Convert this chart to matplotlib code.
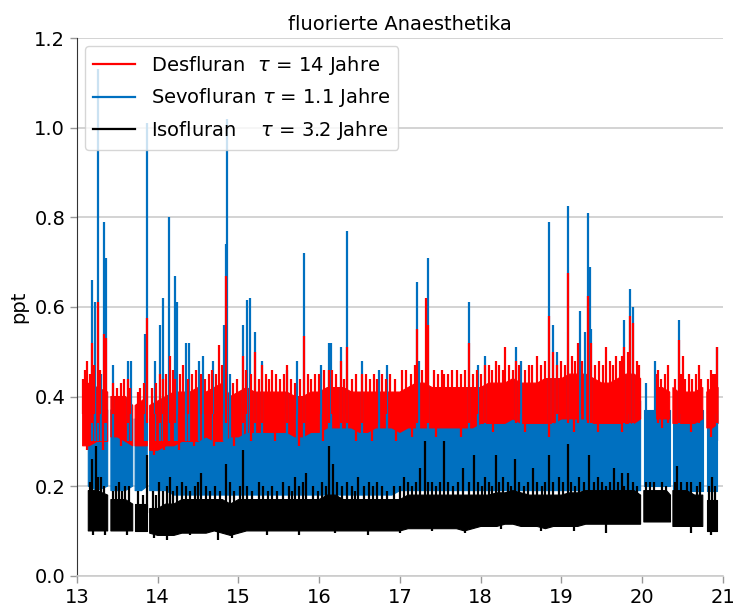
import matplotlib
matplotlib.use("Agg")
import matplotlib.pyplot as plt
from matplotlib.lines import Line2D
import numpy as np

nan = np.nan

# --- Desfluran: band of the dense trace (lower / upper edge) ---
red_t = [13.07, 13.15, 13.25, 13.38, 13.40, 13.42, 13.50, 13.60, 13.69, 13.71,
         13.72, 13.80, 13.87, 13.89, 13.90,
         14.0, 14.1, 14.2, 14.3, 14.4, 14.5, 14.6, 14.7, 14.8, 14.9,
         15.0, 15.1, 15.2, 15.3, 15.4, 15.5, 15.6, 15.7, 15.8, 15.9,
         16.0, 16.1, 16.2, 16.3, 16.4, 16.5, 16.6, 16.7, 16.8, 16.9,
         17.0, 17.1, 17.2, 17.3, 17.4, 17.5, 17.6, 17.7, 17.8, 17.9,
         18.0, 18.1, 18.2, 18.3, 18.4, 18.5, 18.6, 18.7, 18.8, 18.9,
         19.0, 19.1, 19.2, 19.3, 19.4, 19.5, 19.6, 19.7, 19.8, 19.9,
         19.98, 20.05, 20.16, 20.25, 20.34, 20.36, 20.38, 20.45, 20.55, 20.65,
         20.75, 20.78, 20.80, 20.87, 20.94]
red_lo = [0.29, 0.29, 0.30, 0.30, nan, 0.31, 0.31, 0.30, 0.29, nan,
          0.29, 0.29, 0.29, nan, 0.28,
          0.28, 0.29, 0.29, 0.30, 0.30, 0.30, 0.31, 0.30, 0.30, 0.31,
          0.31, 0.32, 0.32, 0.32, 0.32, 0.32, 0.32, 0.31, 0.31, 0.32,
          0.32, 0.33, 0.33, 0.33, 0.33, 0.32, 0.32, 0.33, 0.33, 0.33,
          0.32, 0.33, 0.33, 0.33, 0.33, 0.33, 0.33, 0.33, 0.33, 0.33,
          0.34, 0.34, 0.34, 0.34, 0.35, 0.34, 0.34, 0.34, 0.34, 0.34,
          0.35, 0.35, 0.35, 0.35, 0.34, 0.34, 0.34, 0.34, 0.34, 0.34,
          0.35, nan, 0.35, 0.35, 0.35, nan, 0.34, 0.34, 0.34, 0.34,
          0.35, nan, 0.33, 0.33, 0.34]
red_hi = [0.42, 0.43, 0.42, 0.41, nan, 0.40, 0.40, 0.40, 0.38, nan,
          0.38, 0.39, 0.40, nan, 0.38,
          0.39, 0.40, 0.41, 0.41, 0.41, 0.42, 0.41, 0.42, 0.43, 0.40,
          0.41, 0.42, 0.41, 0.41, 0.41, 0.41, 0.41, 0.40, 0.40, 0.41,
          0.41, 0.42, 0.42, 0.42, 0.41, 0.41, 0.41, 0.41, 0.41, 0.41,
          0.41, 0.42, 0.43, 0.43, 0.42, 0.42, 0.42, 0.42, 0.42, 0.42,
          0.42, 0.43, 0.43, 0.43, 0.44, 0.43, 0.43, 0.43, 0.44, 0.44,
          0.44, 0.45, 0.45, 0.45, 0.44, 0.43, 0.43, 0.44, 0.45, 0.45,
          0.44, nan, 0.42, 0.42, 0.41, nan, 0.42, 0.41, 0.41, 0.41,
          0.42, nan, 0.41, 0.42, 0.42]

# --- Sevofluran and Isofluran share one time grid ---
t_low = [13.14, 13.25, 13.38, 13.40, 13.42, 13.50, 13.60, 13.69, 13.71, 13.72,
         13.80, 13.87, 13.89, 13.90,
         14.0, 14.1, 14.2, 14.3, 14.4, 14.5, 14.6, 14.7, 14.8, 14.9,
         15.0, 15.1, 15.2, 15.3, 15.4, 15.5, 15.6, 15.7, 15.8, 15.9,
         16.0, 16.1, 16.2, 16.3, 16.4, 16.5, 16.6, 16.7, 16.8, 16.9,
         17.0, 17.1, 17.2, 17.3, 17.4, 17.5, 17.6, 17.7, 17.8, 17.9,
         18.0, 18.1, 18.2, 18.3, 18.4, 18.5, 18.6, 18.7, 18.8, 18.9,
         19.0, 19.1, 19.2, 19.3, 19.4, 19.5, 19.6, 19.7, 19.8, 19.9,
         19.98, 20.00, 20.02, 20.10, 20.20, 20.30, 20.35, 20.365, 20.38, 20.45,
         20.55, 20.65, 20.75, 20.775, 20.80, 20.87, 20.93]
blue_lo = [0.20, 0.19, 0.20, nan, 0.19, 0.19, 0.19, 0.20, nan, 0.19,
           0.19, 0.20, nan, 0.19,
           0.19, 0.19, 0.18, 0.18, 0.18, 0.18, 0.18, 0.18, 0.18, 0.18,
           0.18, 0.18, 0.18, 0.18, 0.18, 0.18, 0.18, 0.18, 0.18, 0.18,
           0.18, 0.18, 0.18, 0.18, 0.18, 0.18, 0.18, 0.18, 0.18, 0.18,
           0.19, 0.19, 0.19, 0.19, 0.19, 0.19, 0.19, 0.19, 0.19, 0.19,
           0.19, 0.19, 0.19, 0.19, 0.19, 0.19, 0.19, 0.19, 0.19, 0.19,
           0.19, 0.19, 0.19, 0.19, 0.19, 0.19, 0.19, 0.19, 0.19, 0.19,
           0.19, nan, 0.20, 0.20, 0.20, 0.20, 0.20, nan, 0.19, 0.19,
           0.19, 0.19, 0.19, nan, 0.19, 0.19, 0.19]
blue_hi = [0.38, 0.38, 0.37, nan, 0.37, 0.36, 0.36, 0.35, nan, 0.35,
           0.35, 0.36, nan, 0.35,
           0.35, 0.36, 0.37, 0.37, 0.37, 0.37, 0.37, 0.37, 0.37, 0.36,
           0.37, 0.37, 0.37, 0.37, 0.37, 0.37, 0.37, 0.36, 0.36, 0.37,
           0.37, 0.38, 0.38, 0.38, 0.37, 0.37, 0.37, 0.37, 0.37, 0.37,
           0.37, 0.38, 0.38, 0.38, 0.38, 0.38, 0.38, 0.38, 0.38, 0.38,
           0.38, 0.39, 0.39, 0.39, 0.39, 0.39, 0.39, 0.39, 0.39, 0.39,
           0.39, 0.40, 0.40, 0.40, 0.39, 0.39, 0.39, 0.39, 0.40, 0.40,
           0.39, nan, 0.37, 0.37, 0.37, 0.37, 0.37, nan, 0.37, 0.37,
           0.37, 0.37, 0.37, nan, 0.37, 0.37, 0.37]
black_lo = [0.10, 0.10, 0.10, nan, 0.10, 0.10, 0.10, 0.10, nan, 0.10,
            0.10, 0.10, nan, 0.095,
            0.09, 0.09, 0.09, 0.095, 0.095, 0.095, 0.095, 0.10, 0.095, 0.09,
            0.095, 0.10, 0.10, 0.10, 0.10, 0.10, 0.10, 0.10, 0.10, 0.10,
            0.10, 0.10, 0.10, 0.10, 0.10, 0.10, 0.10, 0.10, 0.10, 0.10,
            0.10, 0.105, 0.105, 0.105, 0.105, 0.105, 0.105, 0.105, 0.10, 0.105,
            0.11, 0.11, 0.11, 0.115, 0.115, 0.11, 0.11, 0.11, 0.105, 0.11,
            0.11, 0.11, 0.11, 0.115, 0.115, 0.115, 0.115, 0.115, 0.115, 0.115,
            0.115, nan, 0.12, 0.12, 0.12, 0.12, 0.12, nan, 0.11, 0.11,
            0.11, 0.11, 0.11, nan, 0.10, 0.10, 0.10]
black_hi = [0.19, 0.19, 0.18, nan, 0.17, 0.17, 0.17, 0.16, nan, 0.16,
            0.16, 0.16, nan, 0.15,
            0.15, 0.16, 0.16, 0.17, 0.17, 0.17, 0.17, 0.17, 0.17, 0.16,
            0.17, 0.17, 0.17, 0.17, 0.17, 0.17, 0.17, 0.17, 0.17, 0.17,
            0.17, 0.18, 0.18, 0.17, 0.17, 0.17, 0.17, 0.17, 0.17, 0.17,
            0.17, 0.18, 0.18, 0.18, 0.18, 0.18, 0.18, 0.18, 0.18, 0.18,
            0.18, 0.18, 0.185, 0.185, 0.19, 0.185, 0.18, 0.18, 0.18, 0.18,
            0.18, 0.185, 0.185, 0.19, 0.19, 0.19, 0.19, 0.19, 0.19, 0.19,
            0.18, nan, 0.19, 0.19, 0.19, 0.19, 0.18, nan, 0.19, 0.19,
            0.19, 0.18, 0.18, nan, 0.17, 0.17, 0.17]

# --- isolated peaks (time, peak value) ---
blue_peak_t = [13.18, 13.22, 13.26, 13.30, 13.33, 13.36, 13.45, 13.63, 13.67, 13.84,
               13.87, 13.96, 14.03, 14.07, 14.14, 14.22, 14.24, 14.35, 14.39, 14.51,
               14.56, 14.69, 14.82, 14.84, 14.86, 14.90, 15.06, 15.10, 15.14, 15.21,
               15.29, 15.60, 15.73, 15.81, 16.02, 16.12, 16.15, 16.27, 16.35, 16.53,
               16.74, 16.84, 17.21, 17.24, 17.35, 17.85, 17.97, 18.05, 18.44, 18.50,
               18.85, 18.90, 18.95, 19.08, 19.23, 19.29, 19.33, 19.35, 19.37, 19.78,
               19.85, 19.88, 20.05, 20.16, 20.45, 20.92]
blue_peak = [0.66, 0.61, 1.13, 0.45, 0.79, 0.71, 0.47, 0.48, 0.48, 0.54,
             1.01, 0.48, 0.56, 0.62, 0.80, 0.67, 0.61, 0.52, 0.52, 0.48,
             0.49, 0.48, 0.56, 0.74, 1.02, 0.45, 0.56, 0.615, 0.62, 0.545,
             0.48, 0.46, 0.48, 0.72, 0.47, 0.52, 0.52, 0.51, 0.77, 0.48,
             0.46, 0.47, 0.656, 0.48, 0.71, 0.61, 0.47, 0.49, 0.51, 0.48,
             0.79, 0.56, 0.50, 0.825, 0.59, 0.545, 0.81, 0.69, 0.55, 0.57,
             0.64, 0.60, 0.43, 0.48, 0.57, 0.51]

red_peak_t = [13.10, 13.13, 13.18, 13.26, 13.34, 13.36, 13.63, 13.87, 14.03, 14.15,
              14.22, 14.48, 14.63, 14.76, 14.84, 15.05, 15.21, 15.29, 15.41, 15.60,
              15.81, 15.95, 16.12, 16.27, 16.35, 16.53, 16.72, 17.02, 17.21, 17.32,
              17.35, 17.55, 17.71, 17.85, 18.05, 18.19, 18.30, 18.44, 18.60, 18.70,
              18.85, 18.90, 19.08, 19.20, 19.33, 19.37, 19.55, 19.68, 19.78, 19.85,
              19.88, 20.20, 20.32, 20.45, 20.50, 20.70, 20.88, 20.92]
red_peak = [0.46, 0.48, 0.52, 0.61, 0.54, 0.53, 0.44, 0.575, 0.45, 0.49,
            0.44, 0.46, 0.45, 0.515, 0.67, 0.49, 0.50, 0.47, 0.46, 0.47,
            0.535, 0.45, 0.46, 0.48, 0.51, 0.45, 0.44, 0.46, 0.55, 0.62,
            0.56, 0.45, 0.46, 0.52, 0.47, 0.48, 0.51, 0.48, 0.47, 0.49,
            0.58, 0.50, 0.675, 0.52, 0.625, 0.52, 0.51, 0.49, 0.51, 0.58,
            0.565, 0.46, 0.47, 0.526, 0.49, 0.47, 0.45, 0.51]

# smaller ups and downs along the edge of the red trace
red_up_t = [13.08, 13.16, 13.21, 13.29, 13.45, 13.50, 13.55, 13.58, 13.66, 13.75,
            13.78, 13.83, 13.93, 13.98, 14.06, 14.10, 14.19, 14.27, 14.31, 14.37,
            14.42, 14.53, 14.58, 14.67, 14.72, 14.80, 14.93, 14.98, 15.09, 15.16,
            15.25, 15.34, 15.38, 15.46, 15.52, 15.56, 15.65, 15.70, 15.76, 15.86,
            15.90, 16.00, 16.06, 16.16, 16.21, 16.31, 16.40, 16.45, 16.58, 16.63,
            16.68, 16.78, 16.83, 16.88, 16.94, 17.08, 17.14, 17.18, 17.27, 17.42,
            17.47, 17.52, 17.60, 17.65, 17.76, 17.81, 17.90, 17.95, 18.00, 18.10,
            18.14, 18.23, 18.27, 18.35, 18.40, 18.48, 18.55, 18.64, 18.75, 18.80,
            18.95, 19.00, 19.04, 19.13, 19.17, 19.26, 19.42, 19.47, 19.51, 19.60,
            19.64, 19.72, 19.75, 19.82, 19.93, 19.96, 20.18, 20.23, 20.28, 20.40,
            20.48, 20.53, 20.58, 20.62, 20.67, 20.73, 20.82, 20.85, 20.90]
red_up = [0.44, 0.45, 0.47, 0.46, 0.43, 0.42, 0.43, 0.44, 0.42, 0.41,
          0.42, 0.43, 0.42, 0.43, 0.44, 0.45, 0.46, 0.45, 0.47, 0.44,
          0.45, 0.45, 0.44, 0.46, 0.45, 0.47, 0.43, 0.44, 0.46, 0.45,
          0.44, 0.45, 0.44, 0.45, 0.44, 0.45, 0.44, 0.43, 0.44, 0.45,
          0.44, 0.45, 0.46, 0.46, 0.45, 0.44, 0.44, 0.45, 0.45, 0.44,
          0.45, 0.45, 0.44, 0.45, 0.44, 0.46, 0.45, 0.47, 0.46, 0.46,
          0.45, 0.46, 0.45, 0.46, 0.45, 0.46, 0.45, 0.46, 0.45, 0.47,
          0.46, 0.47, 0.46, 0.47, 0.46, 0.47, 0.46, 0.47, 0.47, 0.48,
          0.47, 0.48, 0.47, 0.49, 0.48, 0.48, 0.47, 0.48, 0.47, 0.48,
          0.47, 0.48, 0.49, 0.50, 0.48, 0.47, 0.45, 0.44, 0.45, 0.44,
          0.45, 0.44, 0.45, 0.44, 0.45, 0.44, 0.44, 0.46, 0.45]
red_down_t = [13.12, 13.32, 13.55, 13.95, 14.08, 14.26, 14.45, 14.70, 14.95, 15.15,
              15.45, 15.75, 16.05, 16.45, 16.65, 16.95, 17.15, 17.45, 17.75, 18.15,
              18.55, 18.85, 19.15, 19.45, 19.75, 20.25, 20.60, 20.85]
red_down = [0.28, 0.28, 0.29, 0.27, 0.28, 0.28, 0.29, 0.29, 0.29, 0.30,
            0.30, 0.29, 0.30, 0.30, 0.30, 0.30, 0.31, 0.31, 0.31, 0.32,
            0.32, 0.31, 0.32, 0.32, 0.32, 0.33, 0.32, 0.31]

black_peak_t = [13.19, 13.23, 13.30, 13.52, 13.60, 13.87, 14.02, 14.15, 14.30, 14.54,
                14.84, 14.90, 15.06, 15.25, 15.55, 15.70, 15.80, 15.83, 16.12, 16.17,
                16.35, 16.48, 16.72, 17.05, 17.25, 17.31, 17.40, 17.55, 17.78, 17.92,
                18.05, 18.19, 18.28, 18.43, 18.65, 18.85, 18.97, 19.08, 19.22, 19.34,
                19.45, 19.65, 19.75, 19.82, 20.10, 20.43, 20.55, 20.87]
black_peak = [0.26, 0.29, 0.22, 0.21, 0.20, 0.27, 0.21, 0.22, 0.21, 0.23,
              0.25, 0.21, 0.28, 0.21, 0.21, 0.22, 0.21, 0.23, 0.29, 0.25,
              0.21, 0.22, 0.21, 0.22, 0.24, 0.30, 0.21, 0.30, 0.24, 0.27,
              0.22, 0.27, 0.22, 0.26, 0.24, 0.27, 0.22, 0.295, 0.22, 0.27,
              0.22, 0.24, 0.23, 0.23, 0.21, 0.245, 0.21, 0.22]

black_up_t = [13.16, 13.26, 13.33, 13.44, 13.48, 13.56, 13.64, 13.75, 13.82, 13.94,
              13.98, 14.06, 14.11, 14.19, 14.24, 14.35, 14.40, 14.46, 14.50, 14.60,
              14.65, 14.71, 14.77, 14.95, 15.02, 15.11, 15.17, 15.30, 15.36, 15.42,
              15.48, 15.62, 15.66, 15.75, 15.92, 15.98, 16.03, 16.08, 16.22, 16.28,
              16.40, 16.44, 16.55, 16.62, 16.66, 16.78, 16.84, 16.92, 17.00, 17.10,
              17.15, 17.20, 17.35, 17.45, 17.50, 17.60, 17.66, 17.72, 17.85, 17.97,
              18.01, 18.10, 18.14, 18.23, 18.34, 18.38, 18.48, 18.54, 18.58, 18.70,
              18.76, 18.80, 18.90, 19.02, 19.12, 19.17, 19.28, 19.40, 19.50, 19.55,
              19.60, 19.70, 19.78, 19.88, 19.94, 20.05, 20.15, 20.25, 20.30, 20.41,
              20.48, 20.60, 20.68, 20.72, 20.83, 20.90]
black_up = [0.21, 0.22, 0.20, 0.19, 0.20, 0.19, 0.20, 0.19, 0.18, 0.19,
            0.18, 0.19, 0.20, 0.19, 0.20, 0.20, 0.19, 0.20, 0.21, 0.20,
            0.19, 0.20, 0.19, 0.19, 0.20, 0.20, 0.19, 0.20, 0.19, 0.20,
            0.19, 0.20, 0.19, 0.20, 0.20, 0.19, 0.21, 0.20, 0.21, 0.20,
            0.20, 0.19, 0.20, 0.21, 0.20, 0.20, 0.19, 0.20, 0.20, 0.21,
            0.20, 0.21, 0.21, 0.20, 0.21, 0.21, 0.20, 0.21, 0.21, 0.21,
            0.20, 0.21, 0.20, 0.21, 0.21, 0.20, 0.21, 0.20, 0.21, 0.21,
            0.20, 0.21, 0.21, 0.21, 0.21, 0.20, 0.21, 0.21, 0.21, 0.20,
            0.21, 0.21, 0.20, 0.21, 0.20, 0.21, 0.21, 0.21, 0.20, 0.21,
            0.21, 0.21, 0.20, 0.21, 0.20, 0.20]
black_down_t = [13.20, 13.35, 13.62, 13.95, 14.12, 14.40, 14.75, 14.92, 15.35, 15.75,
                16.20, 16.60, 17.00, 17.40, 17.80, 18.25, 18.75, 19.15, 19.55, 20.60,
                20.85]
black_down = [0.09, 0.09, 0.09, 0.085, 0.08, 0.09, 0.08, 0.085, 0.09, 0.09,
              0.095, 0.09, 0.095, 0.10, 0.095, 0.105, 0.10, 0.10, 0.095, 0.095,
              0.09]

labels = [r"Desfluran  $\tau$ = 14 Jahre",
          r"Sevofluran $\tau$ = 1.1 Jahre",
          r"Isofluran    $\tau$ = 3.2 Jahre"]
c_red, c_blue, c_black = "#ff0000", "#0070c0", "#000000"

fig = plt.figure(figsize=(7.36, 6.13), dpi=100)
ax = fig.add_axes([0.1046, 0.0608, 0.8777, 0.877])

# Sevofluran underneath
ax.fill_between(t_low, blue_lo, blue_hi, color=c_blue, lw=0.8, edgecolor=c_blue)
ax.vlines(blue_peak_t, 0.30, blue_peak, color=c_blue, lw=1.6)
# Desfluran on top of it
ax.fill_between(red_t, red_lo, red_hi, color=c_red, lw=0.8, edgecolor=c_red)
ax.vlines(red_peak_t, 0.34, red_peak, color=c_red, lw=1.6)
ax.vlines(red_up_t, 0.36, red_up, color=c_red, lw=1.6)
ax.vlines(red_down_t, red_down, 0.36, color=c_red, lw=1.6)
# Isofluran
ax.fill_between(t_low, black_lo, black_hi, color=c_black, lw=0.8, edgecolor=c_black)
ax.vlines(black_peak_t, 0.14, black_peak, color=c_black, lw=1.6)
ax.vlines(black_up_t, 0.13, black_up, color=c_black, lw=1.6)
ax.vlines(black_down_t, black_down, 0.13, color=c_black, lw=1.6)

ax.set_xlim(13, 21)
ax.set_ylim(0, 1.2)
ax.set_xticks([13, 14, 15, 16, 17, 18, 19, 20, 21])
ax.set_yticks([0.0, 0.2, 0.4, 0.6, 0.8, 1.0, 1.2])
ax.yaxis.grid(True, color="#cccccc", lw=1.2)
ax.set_axisbelow(True)
ax.tick_params(labelsize=14, color="#999999", length=5, width=1)
for s in ["top", "right"]:
    ax.spines[s].set_visible(False)
ax.spines["left"].set_color("#333333")
ax.spines["bottom"].set_color("#cccccc")
ax.spines["bottom"].set_linewidth(1.2)

ax.set_title("fluorierte Anaesthetika", fontsize=14)
ax.set_ylabel("ppt", fontsize=14)

handles = [Line2D([], [], color=c, lw=1.6) for c in (c_red, c_blue, c_black)]
ax.legend(handles, labels, loc="upper left", fontsize=14,
          handlelength=2.2, borderaxespad=0.4)

fig.savefig("out.png", dpi=100)
